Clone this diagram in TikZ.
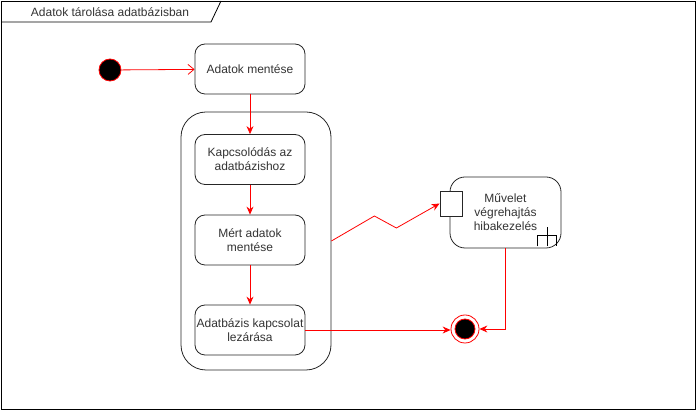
\documentclass[tikz,border=0pt]{standalone}
\usepackage{fontspec}
\setmainfont{Liberation Sans}
\usetikzlibrary{arrows.meta,positioning,calc}

\begin{document}
\begin{tikzpicture}[x=1pt,y=-1pt,
  every node/.style={font=\fontsize{12}{14}\selectfont, text=black!80},
  act/.style={draw=black!85, line width=0.8pt, rounded corners=10pt, minimum width=110pt, minimum height=50pt, align=center, inner sep=1pt},
  flow/.style={red, line width=0.8pt, -{Stealth[length=8pt,width=7pt]}}]
\useasboundingbox (0,0) rectangle (697,411);
% Frame and title
\draw[line width=0.8pt] (1,1) rectangle (695,409);
\draw[line width=0.8pt] (1,22) -- (211,22) -- (221,1);
\node (title) at (110,12) {Adatok tárolása adatbázisban};

% Composite state
\node[draw=black!85, line width=0.8pt, rounded corners=25pt, minimum width=150pt, minimum height=258pt] (tx) at (256,241) {};

% Activities
\node[act] (save) at (250,69) {Adatok mentése};
\node[act] (connect) at (250,159.5) {Kapcsolódás az\\adatbázishoz};
\node[act] (measured) at (250,240) {Mért adatok\\mentése};
\node[act] (close) at (250,330) {Adatbázis kapcsolat\\lezárása};

% Exception handler
\node[act, rounded corners=15pt, minimum width=111pt, minimum height=71pt] (handler) at (505.5,212.5) {Művelet\\végrehajtás\\hibakezelés};
\node[draw=black!85, line width=0.8pt, fill=white, minimum width=22pt, minimum height=25pt, inner sep=0pt] (pin) at (451,203.5) {};
\draw[line width=0.8pt] ($(handler.south east)+(-24,-2)$) -- ++(0,-11) -- ++(19,0) -- ++(0,11)
  ($(handler.south east)+(-14,-2)$) -- ++(0,-19);

% Start and end
\node[circle, draw=red, fill=black, line width=0.8pt, minimum size=22pt, inner sep=0pt] (start) at (110,70) {};
\node[circle, draw=red, line width=0.8pt, minimum size=28pt, inner sep=0pt] (end) at (465,329) {};
\node[circle, draw=red, fill=black, line width=0.8pt, minimum size=20pt, inner sep=0pt] (endcore) at (end) {};

% Flows
\draw[flow, -{Straight Barb[length=6pt,width=10pt]}] (start) -- (save);
\draw[flow] (save) -- (connect);
\draw[flow] (connect) -- (measured);
\draw[flow] (measured) -- (close);
\draw[flow] (close.east) -- (close.east -| end.west);
\draw[flow] (handler.south) |- (end.east);
\draw[flow] (tx.east) -- ++(43,-25) -- ++(22,12) -- (pin.west);

\end{tikzpicture}
\end{document}
